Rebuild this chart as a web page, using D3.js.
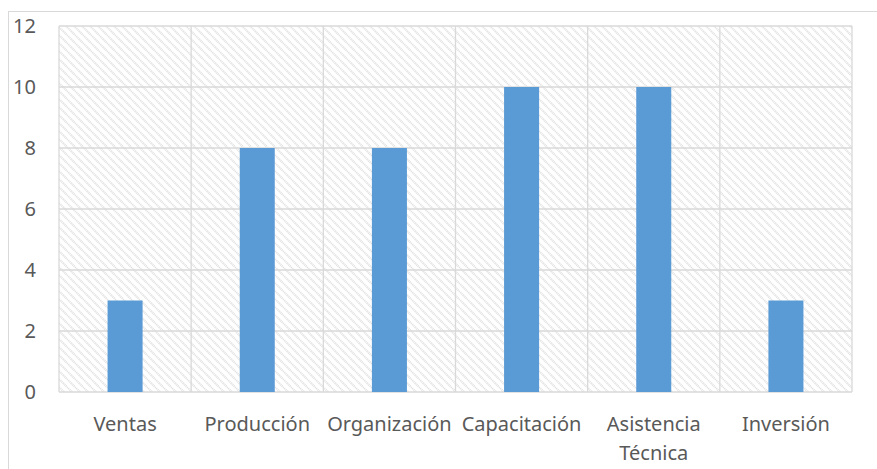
<!DOCTYPE html>
<html>
<head>
<meta charset="utf-8">
<script src="https://cdn.jsdelivr.net/npm/d3@7"></script>
<style>
  html, body { margin: 0; padding: 0; background: #fff; }
  svg { display: block; font-family: "Noto Sans", sans-serif; }
</style>
</head>
<body>
<svg width="877" height="469"></svg>
<script>
var categories = ['Ventas', 'Producción', 'Organización', 'Capacitación', 'Asistencia Técnica', 'Inversión'];
var values = [3, 8, 8, 10, 10, 3];
var yTicks = [0, 2, 4, 6, 8, 10, 12];

var svg = d3.select('svg'),
    plotLeft = 59, plotTop = 26, plotRight = 852, plotBottom = 392;

// outer chart frame (runs off the page to the right and bottom)
svg.append('rect')
    .attr('x', 8.5).attr('y', 11.5)
    .attr('width', 1000).attr('height', 1000)
    .attr('fill', '#fff')
    .attr('stroke', '#d9d9d9');

var defs = svg.append('defs');
var pat = defs.append('pattern')
    .attr('id', 'hatch')
    .attr('patternUnits', 'userSpaceOnUse')
    .attr('width', 8).attr('height', 8);
pat.append('rect').attr('width', 8).attr('height', 8).attr('fill', '#fff');
pat.append('path')
    .attr('d', 'M-2,-2 L10,10 M-2,6 L2,10 M6,-2 L10,2')
    .attr('stroke', '#dedede')
    .attr('stroke-width', 2)
    .attr('stroke-dasharray', '1,0.8');

var x = d3.scaleBand().domain(categories).range([plotLeft, plotRight]);
var y = d3.scaleLinear().domain([0, 12]).range([plotBottom, plotTop]);

svg.append('rect')
    .attr('x', plotLeft).attr('y', plotTop)
    .attr('width', plotRight - plotLeft).attr('height', plotBottom - plotTop)
    .attr('fill', 'url(#hatch)');

var grid = svg.append('g').attr('stroke', '#d9d9d9').attr('stroke-width', 1.3);
grid.selectAll('.h').data(yTicks).enter().append('line')
    .attr('x1', plotLeft).attr('x2', plotRight)
    .attr('y1', function(d) { return y(d); })
    .attr('y2', function(d) { return y(d); });
grid.selectAll('.v').data(categories.concat([null])).enter().append('line')
    .attr('x1', function(d) { return d === null ? plotRight : x(d); })
    .attr('x2', function(d) { return d === null ? plotRight : x(d); })
    .attr('y1', plotTop).attr('y2', plotBottom);

var barW = x.bandwidth() * 0.265;
svg.selectAll('.bar')
    .data(values)
    .enter().append('rect')
    .attr('class', 'bar')
    .attr('x', function(d, i) { return x(categories[i]) + (x.bandwidth() - barW) / 2; })
    .attr('y', function(d) { return y(d); })
    .attr('width', barW)
    .attr('height', function(d) { return y(0) - y(d); })
    .attr('fill', '#5b9bd5');

var yAxis = svg.append('g')
    .attr('transform', 'translate(36,0)')
    .call(d3.axisLeft(y).tickValues(yTicks).tickSize(0).tickPadding(0));
yAxis.select('.domain').remove();
yAxis.selectAll('text')
    .attr('fill', '#595959')
    .style('font-size', '20px')
    .style('font-family', '"Noto Sans", sans-serif');

var xAxis = svg.append('g')
    .attr('transform', 'translate(0,' + plotBottom + ')')
    .call(d3.axisBottom(x).tickSize(0).tickPadding(0));
xAxis.select('.domain').remove();
xAxis.selectAll('text')
    .attr('fill', '#595959')
    .style('font-size', '20px')
    .style('font-family', '"Noto Sans", sans-serif')
    .each(function(d) {
        var t = d3.select(this), words = d.split(' ');
        t.text(null).attr('y', 0).attr('dy', null);
        words.forEach(function(w, i) {
            t.append('tspan').attr('x', 0).attr('y', 39 + i * 29).text(w);
        });
    });
</script>
</body>
</html>
